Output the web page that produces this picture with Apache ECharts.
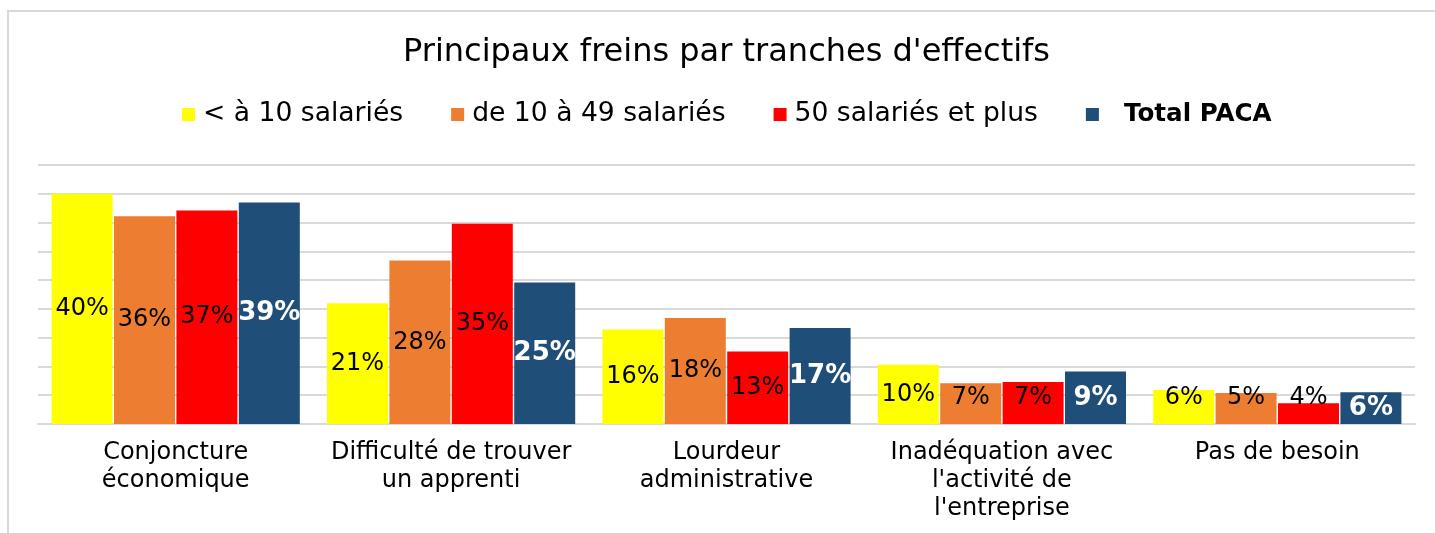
<!DOCTYPE html>
<html>
<head>
<meta charset="utf-8">
<script src="https://cdn.jsdelivr.net/npm/echarts@6/dist/echarts.min.js"></script>
<style>
html,body{margin:0;padding:0;background:#fff;overflow:hidden;}
#frame{position:absolute;left:7px;top:10px;width:1500px;height:600px;border:2px solid #d9d9d9;}
#myChart{position:absolute;left:0;top:0;width:1435px;height:533px;}
</style>
</head>
<body>
<div id="frame"></div>
<div id="myChart"></div>
<script>
// données (en %)
var categories = ['Conjoncture\néconomique', 'Difficulté de trouver\nun apprenti', 'Lourdeur\nadministrative', "Inadéquation avec\nl'activité de\nl'entreprise", 'Pas de besoin'];
var seriesNames = ['< à 10 salariés', 'de 10 à 49 salariés', '50 salariés et plus', 'Total PACA'];
var moins10 = [40, 21, 16.4, 10.3, 5.9];
var de10a49 = [36.1, 28.4, 18.4, 7.1, 5.4];
var plus50 = [37.1, 34.8, 12.6, 7.3, 3.6];
var totalPaca = [38.5, 24.6, 16.7, 9.1, 5.5];
var colors = ['#FFFF00', '#ED7D31', '#FF0000', '#1F4E79'];

var font = 'DejaVu Sans';

function barSerie(i, data){
	var bold = (i === 3);
	return {
		name: seriesNames[i],
		type: 'bar',
		data: data,
		barWidth: 61,
		barGap: '2.3%',
		itemStyle: {color: colors[i]},
		label: {
			show: true,
			position: 'inside',
			fontFamily: font,
			fontSize: bold ? 26 : 24,
			fontWeight: bold ? 'bold' : 'normal',
			color: bold ? '#fff' : '#000',
			formatter: function(p){ return Math.round(p.value) + '%'; }
		}
	};
}

var option = {
	animation: false,
	title: {
		text: 'Principaux freins par tranches d\'effectifs',
		left: 398,
		top: 32,
		textStyle: {fontFamily: font, fontSize: 32, fontWeight: 'normal', color: '#000'}
	},
	legend: {
		left: 177,
		top: 96,
		itemWidth: 13,
		itemHeight: 13,
		itemGap: 48,
		icon: 'rect',
		formatter: function(name){
			return name === 'Total PACA' ? '{b|' + name + '}' : '{n|' + name + '}';
		},
		textStyle: {
			fontFamily: font,
			fontSize: 26.6,
			color: '#000',
			rich: {
				n: {fontFamily: font, fontSize: 26.6, color: '#000', padding: [0, 0, 0, 3]},
				b: {fontFamily: font, fontSize: 24.6, fontWeight: 'bold', color: '#000', padding: [0, 0, 0, 20]}
			}
		}
	},
	grid: {left: 38, right: 20, top: 165, bottom: 109, containLabel: false},
	xAxis: {
		type: 'category',
		data: categories,
		axisTick: {show: false},
		axisLine: {lineStyle: {color: '#d9d9d9', width: 2}},
		axisLabel: {fontFamily: font, fontSize: 24, color: '#000', lineHeight: 28, margin: 15, interval: 0}
	},
	yAxis: {
		type: 'value',
		min: 0,
		max: 45,
		interval: 5,
		axisLabel: {show: false},
		axisLine: {show: false},
		axisTick: {show: false},
		splitLine: {lineStyle: {color: '#d9d9d9', width: 2}}
	},
	labelLayout: function(p){
		// les petites étiquettes restent au-dessus de l'axe
		if (p.seriesIndex === 3) return {};
		var bottom = p.rect.y + p.rect.height;
		var center = p.labelRect.y + p.labelRect.height / 2;
		var limit = bottom - 26;
		if (center > limit) {
			return {
				x: p.rect.x + p.rect.width / 2,
				y: limit,
				align: 'center',
				verticalAlign: 'middle'
			};
		}
		return {};
	},
	series: [
		barSerie(0, moins10),
		barSerie(1, de10a49),
		barSerie(2, plus50),
		barSerie(3, totalPaca)
	]
};
echarts.init(document.getElementById('myChart')).setOption(option);
</script>
</body>
</html>
